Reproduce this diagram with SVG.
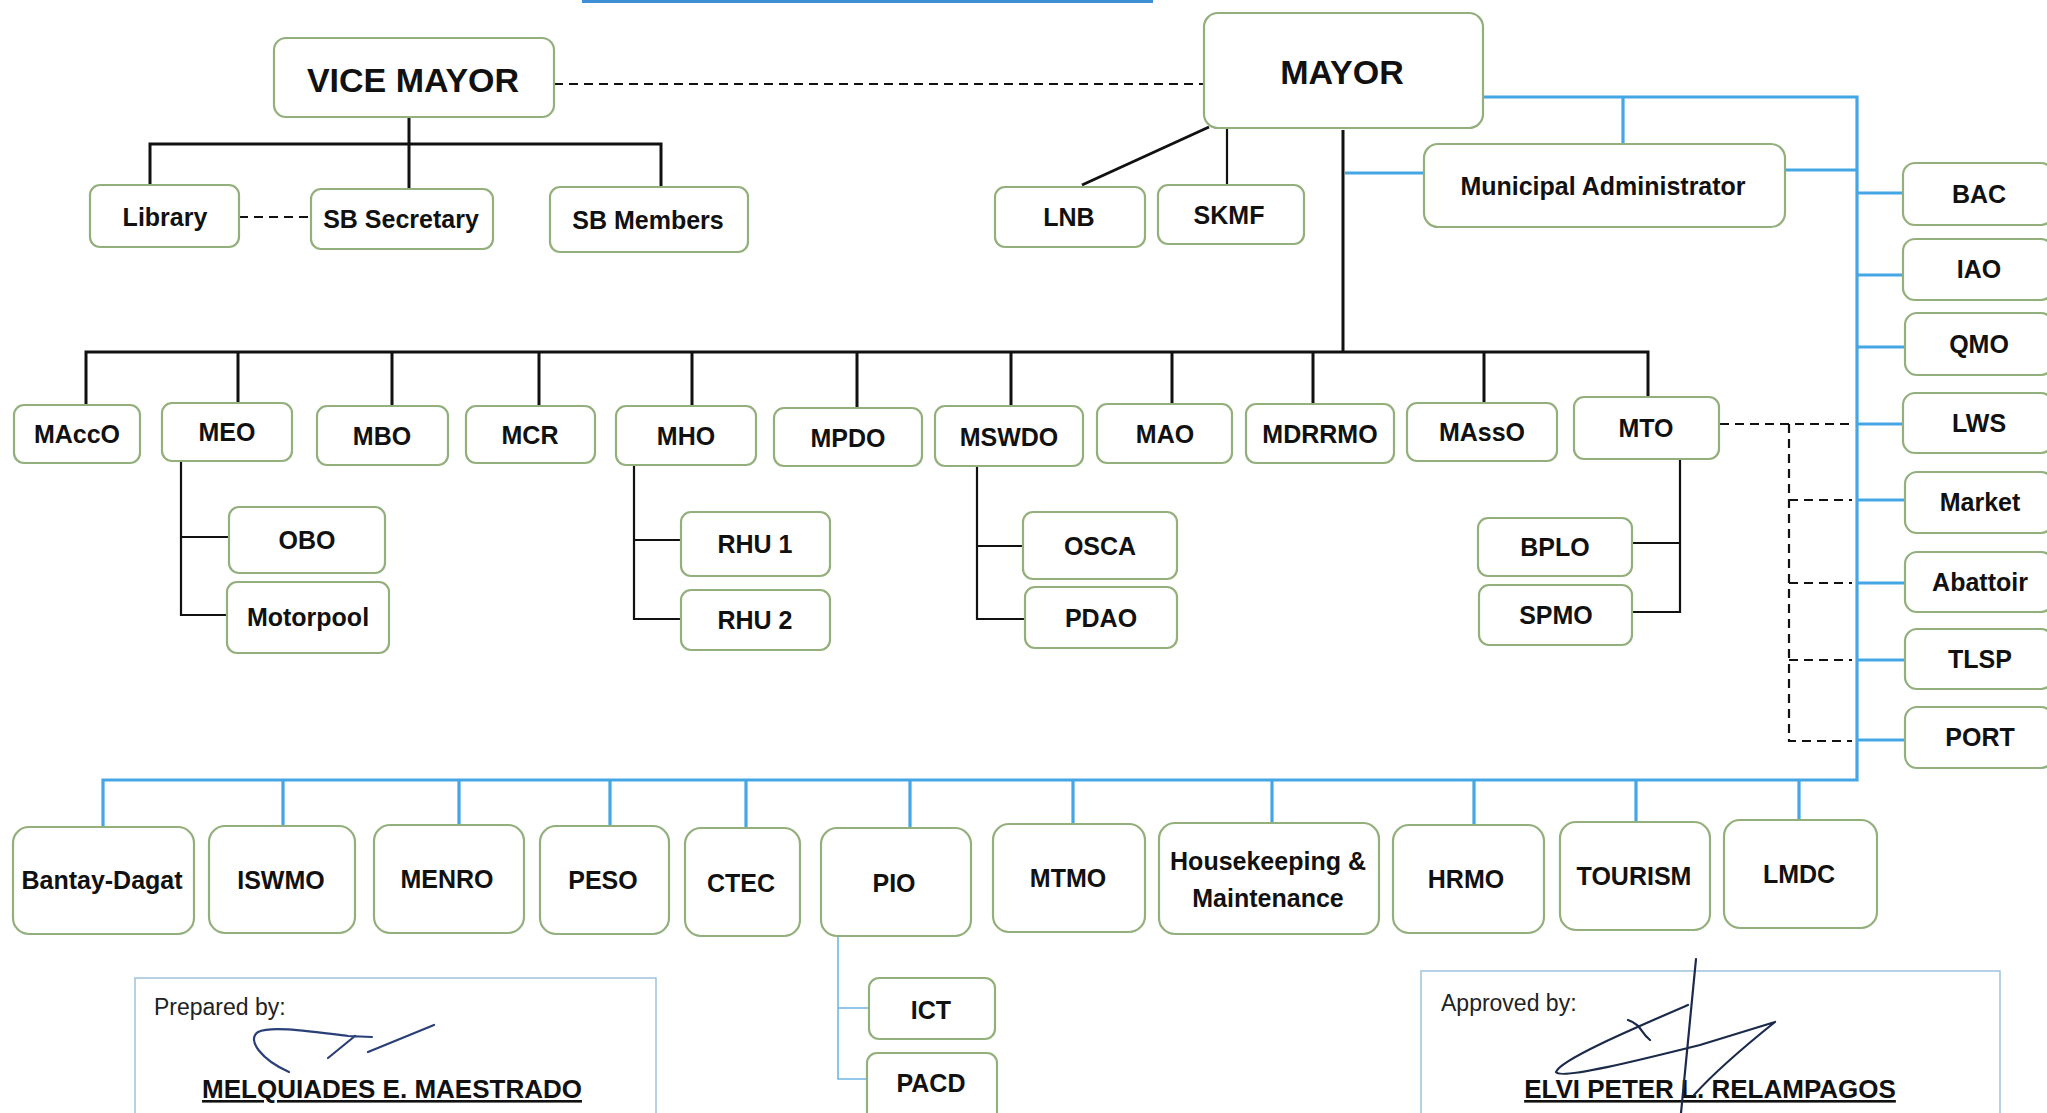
<svg xmlns="http://www.w3.org/2000/svg" width="2047" height="1113" viewBox="0 0 2047 1113">
<style>
.bx{fill:#fff;stroke:#93b07c;stroke-width:2.2}
.t{font-family:"Liberation Sans",Arial,sans-serif;font-weight:bold;font-size:25px;fill:#111;text-anchor:middle}
.big{font-size:34px}
.blk{fill:none;stroke:#111;stroke-width:3}
.blk2{fill:none;stroke:#111;stroke-width:2.2}
.dash{fill:none;stroke:#111;stroke-width:2.2;stroke-dasharray:9 6}
.blu{fill:none;stroke:#45a6e6;stroke-width:3.2}
.blu2{fill:none;stroke:#6db7e6;stroke-width:1.6}
.sig{fill:none;stroke:#1b2a4a;stroke-width:2.2;stroke-linecap:round}
.sbox{fill:none;stroke:#a3c6dc;stroke-width:1.6}
.lbl{font-family:"Liberation Sans",Arial,sans-serif;font-size:23px;fill:#222}
.name{font-family:"Liberation Sans",Arial,sans-serif;font-weight:bold;font-size:26px;fill:#111;text-anchor:middle;text-decoration:underline}
</style>
<rect x="582" y="-2" width="571" height="5" fill="#3f8fd6"/>
<g id="connectors">
<path class="blk" d="M409,117 V144 M150,185 V144 H661 V187 M409,144 V189"/>
<path class="dash" d="M554,84 H1204 M239,217 H311"/>
<path class="blk" d="M1209,127 L1082,185 M1343,130 V352 M86,405 V352 H1648 V397 M238,352 V403 M392,352 V406 M539,352 V406 M692,352 V406 M857,352 V408 M1011,352 V406 M1172,352 V404 M1313,352 V404 M1484,352 V403"/>
<path class="blk2" d="M1227,128 V185"/>
<path class="blk2" d="M181,461 V615 H227 M181,537 H229 M634,465 V619 H681 M634,540 H681 M977,466 V619 H1025 M977,546 H1023 M1680,459 V612 H1632 M1680,543 H1632"/>
<path class="dash" d="M1720,424 H1852 M1789,424 V741 H1852 M1789,500 H1852 M1789,583 H1852 M1789,660 H1852"/>
<path class="blu" d="M1483,97 H1857 V780 H103 V827 M1623,97 V144 M1786,170 H1857 M1345,173 H1424 M1857,193 H1903 M1857,275 H1903 M1857,347 H1905 M1857,424 H1903 M1857,500 H1905 M1857,583 H1905 M1857,660 H1905 M1857,740 H1905 M283,780 V826 M459,780 V825 M610,780 V826 M746,780 V828 M910,780 V828 M1073,780 V824 M1272,780 V823 M1474,780 V825 M1636,780 V822 M1799,780 V820"/>
<path class="blu2" d="M838,936 V1079 H867 M838,1008 H869"/>
</g>
<g id="vice-mayor"><rect class="bx" x="274" y="38" width="280" height="79" rx="12"/><text class="t big" x="413" y="92">VICE MAYOR</text></g>
<g id="mayor"><rect class="bx" x="1204" y="13" width="279" height="115" rx="14"/><text class="t big" x="1342" y="84">MAYOR</text></g>
<g id="library"><rect class="bx" x="90" y="185" width="149" height="62" rx="10"/><text class="t" x="165" y="226">Library</text></g>
<g id="sb-secretary"><rect class="bx" x="311" y="189" width="182" height="60" rx="10"/><text class="t" x="401" y="228">SB Secretary</text></g>
<g id="sb-members"><rect class="bx" x="550" y="187" width="198" height="65" rx="10"/><text class="t" x="648" y="229">SB Members</text></g>
<g id="lnb"><rect class="bx" x="995" y="187" width="150" height="60" rx="10"/><text class="t" x="1069" y="226">LNB</text></g>
<g id="skmf"><rect class="bx" x="1158" y="185" width="146" height="59" rx="10"/><text class="t" x="1229" y="224">SKMF</text></g>
<g id="municipal-administrator"><rect class="bx" x="1424" y="144" width="361" height="83" rx="14"/><text class="t" x="1603" y="195">Municipal Administrator</text></g>
<g id="macco"><rect class="bx" x="14" y="405" width="126" height="58" rx="10"/><text class="t" x="77" y="443">MAccO</text></g>
<g id="meo"><rect class="bx" x="162" y="403" width="130" height="58" rx="10"/><text class="t" x="227" y="441">MEO</text></g>
<g id="mbo"><rect class="bx" x="317" y="406" width="131" height="59" rx="10"/><text class="t" x="382" y="445">MBO</text></g>
<g id="mcr"><rect class="bx" x="466" y="406" width="129" height="57" rx="10"/><text class="t" x="530" y="444">MCR</text></g>
<g id="mho"><rect class="bx" x="616" y="406" width="140" height="59" rx="10"/><text class="t" x="686" y="445">MHO</text></g>
<g id="mpdo"><rect class="bx" x="774" y="408" width="148" height="58" rx="10"/><text class="t" x="848" y="447">MPDO</text></g>
<g id="mswdo"><rect class="bx" x="935" y="406" width="148" height="60" rx="10"/><text class="t" x="1009" y="446">MSWDO</text></g>
<g id="mao"><rect class="bx" x="1097" y="404" width="135" height="59" rx="10"/><text class="t" x="1165" y="443">MAO</text></g>
<g id="mdrrmo"><rect class="bx" x="1246" y="404" width="148" height="59" rx="10"/><text class="t" x="1320" y="443">MDRRMO</text></g>
<g id="masso"><rect class="bx" x="1407" y="403" width="150" height="58" rx="10"/><text class="t" x="1482" y="441">MAssO</text></g>
<g id="mto"><rect class="bx" x="1574" y="397" width="145" height="62" rx="10"/><text class="t" x="1646" y="437">MTO</text></g>
<g id="obo"><rect class="bx" x="229" y="507" width="156" height="66" rx="10"/><text class="t" x="307" y="549">OBO</text></g>
<g id="motorpool"><rect class="bx" x="227" y="582" width="162" height="71" rx="10"/><text class="t" x="308" y="626">Motorpool</text></g>
<g id="rhu1"><rect class="bx" x="681" y="512" width="149" height="64" rx="10"/><text class="t" x="755" y="553">RHU 1</text></g>
<g id="rhu2"><rect class="bx" x="681" y="590" width="149" height="60" rx="10"/><text class="t" x="755" y="629">RHU 2</text></g>
<g id="osca"><rect class="bx" x="1023" y="512" width="154" height="67" rx="10"/><text class="t" x="1100" y="555">OSCA</text></g>
<g id="pdao"><rect class="bx" x="1025" y="587" width="152" height="61" rx="10"/><text class="t" x="1101" y="627">PDAO</text></g>
<g id="bplo"><rect class="bx" x="1478" y="518" width="154" height="58" rx="10"/><text class="t" x="1555" y="556">BPLO</text></g>
<g id="spmo"><rect class="bx" x="1479" y="585" width="153" height="60" rx="10"/><text class="t" x="1556" y="624">SPMO</text></g>
<g id="bac"><rect class="bx" x="1903" y="163" width="150" height="62" rx="12"/><text class="t" x="1979" y="203">BAC</text></g>
<g id="iao"><rect class="bx" x="1903" y="239" width="150" height="61" rx="12"/><text class="t" x="1979" y="278">IAO</text></g>
<g id="qmo"><rect class="bx" x="1905" y="313" width="148" height="62" rx="12"/><text class="t" x="1979" y="353">QMO</text></g>
<g id="lws"><rect class="bx" x="1903" y="393" width="150" height="60" rx="12"/><text class="t" x="1979" y="432">LWS</text></g>
<g id="market"><rect class="bx" x="1905" y="472" width="148" height="61" rx="12"/><text class="t" x="1980" y="511">Market</text></g>
<g id="abattoir"><rect class="bx" x="1905" y="552" width="148" height="60" rx="12"/><text class="t" x="1980" y="591">Abattoir</text></g>
<g id="tlsp"><rect class="bx" x="1905" y="629" width="148" height="60" rx="12"/><text class="t" x="1980" y="668">TLSP</text></g>
<g id="port"><rect class="bx" x="1905" y="707" width="148" height="61" rx="12"/><text class="t" x="1980" y="746">PORT</text></g>
<g id="bantay-dagat"><rect class="bx" x="13" y="827" width="181" height="107" rx="16"/><text class="t" x="102" y="889">Bantay-Dagat</text></g>
<g id="iswmo"><rect class="bx" x="209" y="826" width="146" height="107" rx="16"/><text class="t" x="281" y="889">ISWMO</text></g>
<g id="menro"><rect class="bx" x="374" y="825" width="150" height="108" rx="16"/><text class="t" x="447" y="888">MENRO</text></g>
<g id="peso"><rect class="bx" x="540" y="826" width="129" height="108" rx="16"/><text class="t" x="603" y="889">PESO</text></g>
<g id="ctec"><rect class="bx" x="685" y="828" width="115" height="108" rx="16"/><text class="t" x="741" y="892">CTEC</text></g>
<g id="pio"><rect class="bx" x="821" y="828" width="150" height="108" rx="16"/><text class="t" x="894" y="892">PIO</text></g>
<g id="mtmo"><rect class="bx" x="993" y="824" width="152" height="108" rx="16"/><text class="t" x="1068" y="887">MTMO</text></g>
<g id="housekeeping"><rect class="bx" x="1159" y="823" width="220" height="111" rx="16"/><text class="t" x="1268" y="870">Housekeeping &amp;</text><text class="t" x="1268" y="907">Maintenance</text></g>
<g id="hrmo"><rect class="bx" x="1393" y="825" width="151" height="108" rx="16"/><text class="t" x="1466" y="888">HRMO</text></g>
<g id="tourism"><rect class="bx" x="1560" y="822" width="150" height="108" rx="16"/><text class="t" x="1634" y="885">TOURISM</text></g>
<g id="lmdc"><rect class="bx" x="1724" y="820" width="153" height="108" rx="16"/><text class="t" x="1799" y="883">LMDC</text></g>
<g id="ict"><rect class="bx" x="869" y="978" width="126" height="61" rx="10"/><text class="t" x="931" y="1019">ICT</text></g>
<g id="pacd"><rect class="bx" x="867" y="1053" width="130" height="75" rx="10"/><text class="t" x="931" y="1092">PACD</text></g>
<g id="prepared-by">
<rect class="sbox" x="135" y="978" width="521" height="160"/>
<text class="lbl" x="154" y="1015">Prepared by:</text>
<path class="sig" style="stroke:#2a3f78" d="M289,1072 C262,1060 246,1040 258,1032 C270,1026 300,1030 348,1036 L372,1037 M328,1058 L355,1036 M368,1052 L434,1025"/>
<text class="name" x="392" y="1098">MELQUIADES E. MAESTRADO</text>
</g>
<g id="approved-by">
<rect class="sbox" x="1421" y="971" width="579" height="160"/>
<text class="lbl" x="1441" y="1011">Approved by:</text>
<text class="name" x="1710" y="1098">ELVI PETER L. RELAMPAGOS</text>
<path class="sig" d="M1696,959 L1681,1113 M1688,1005 C1630,1030 1560,1060 1556,1072 C1560,1080 1640,1060 1700,1045 L1775,1022 M1628,1020 C1642,1025 1640,1032 1650,1040 M1775,1022 C1740,1050 1712,1075 1694,1095"/>
</g>
</svg>
